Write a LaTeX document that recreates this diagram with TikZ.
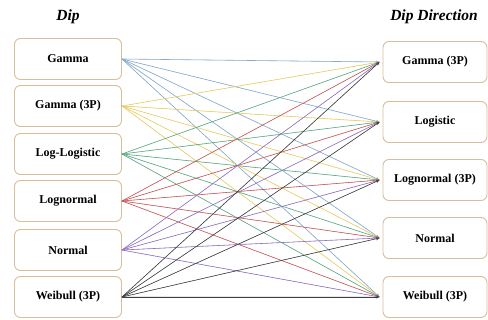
\documentclass[tikz,border=0pt]{standalone}
\usepackage{fontspec}
\setmainfont{Liberation Serif}
\usetikzlibrary{arrows.meta}
\definecolor{boxline}{HTML}{D6BE9E}
\definecolor{cGa}{HTML}{86AACB}
\definecolor{cGb}{HTML}{E6CC66}
\definecolor{cLL}{HTML}{5AAA82}
\definecolor{cLN}{HTML}{C85858}
\definecolor{cNo}{HTML}{9070C0}
\definecolor{cWe}{HTML}{404040}
\tikzset{
  distbox/.style={draw=boxline, line width=0.9pt, rounded corners=6pt, fill=white,
    minimum width=107pt, minimum height=41pt, inner sep=0pt,
    font=\fontsize{12}{14}\selectfont\bfseries},
  title/.style={font=\fontsize{15.5}{18}\selectfont\bfseries\itshape},
  link/.style={line width=0.6pt, -{Stealth[length=3.5pt,width=3pt]}},
}
\begin{document}
\begin{tikzpicture}[x=1pt,y=-1pt]
\useasboundingbox (0,0) rectangle (488,320);
\node[title] (tl) at (68,17) {Dip};
\node[title] (tr) at (434,17) {Dip Direction};
% left
\node[distbox] (L1) at (68,59) {Gamma};
\node[distbox] (L2) at (68,106) {Gamma (3P)};
\node[distbox] (L3) at (68,154) {Log-Logistic};
\node[distbox] (L4) at (68,201) {Lognormal};
\node[distbox] (L5) at (68,250) {Normal};
\node[distbox] (L6) at (68,297) {Weibull (3P)};
% right
\node[distbox, minimum width=104pt] (R1) at (435,62) {Gamma (3P)};
\node[distbox, minimum width=104pt] (R2) at (435,122) {Logistic};
\node[distbox, minimum width=104pt] (R3) at (435,180) {Lognormal (3P)};
\node[distbox, minimum width=104pt] (R4) at (435,238) {Normal};
\node[distbox, minimum width=104pt] (R5) at (435,297) {Weibull (3P)};
\foreach \l/\c in {L1/cGa,L2/cGb,L3/cLL,L4/cLN,L5/cNo,L6/cWe}{
  \foreach \r in {R1,R2,R3,R4,R5}{
    \draw[link, draw=\c, fill=\c] (\l.east) -- ([xshift=-3pt]\r.west);
  }
}
\end{tikzpicture}
\end{document}
